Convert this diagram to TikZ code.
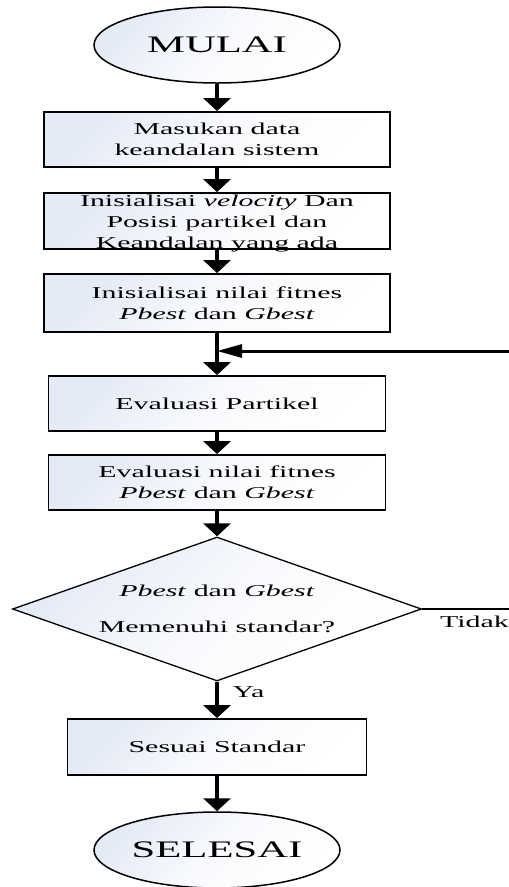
\documentclass[tikz,border=0pt]{standalone}
\usepackage{fontspec}
\setmainfont{Liberation Serif}[FakeStretch=1.8]
\usetikzlibrary{shapes.geometric,arrows.meta}
\definecolor{shadeblue}{RGB}{228,234,246}
\begin{document}
\begin{tikzpicture}[x=1pt,y=-1pt,
  every node/.style={font=\fontsize{16.6}{21}\selectfont},
  fillgrad/.style={left color=shadeblue, right color=white, middle color=shadeblue!25!white, shading angle=45},
  procbox/.style={draw, line width=1.8pt, fillgrad, minimum width=346pt, minimum height=56pt, inner sep=0pt, align=center},
  termnode/.style={ellipse, draw, line width=1.5pt, fillgrad, minimum width=246pt, minimum height=76pt, inner sep=0pt, font=\fontsize{23.7}{28}\selectfont},
  decnode/.style={diamond, draw, line width=1.3pt, fillgrad, minimum width=409pt, minimum height=144pt, aspect=2.84, inner sep=0pt, align=center},
  flow/.style={line width=3.5pt, -{Triangle[length=13pt,width=27pt]}},
  backflow/.style={line width=3pt, -{Triangle[length=25pt,width=13pt]}},
  thinline/.style={line width=1.3pt}
]
\useasboundingbox (0,0) rectangle (509,887);

\node[termnode] (start) at (217,45) {MULAI};
\node[procbox, minimum height=55pt] (b1) at (217,139.5) {Masukan data\\keandalan sistem};
\node[procbox] (b2) at (217,221) {};
\node[procbox, minimum height=58pt] (b3) at (217,303) {Inisialisai nilai fitnes\\\textit{Pbest} dan \textit{Gbest}};
\node[procbox, minimum width=337pt, minimum height=55pt] (b4) at (217,403.5) {Evaluasi Partikel};
\node[procbox, minimum width=337pt, minimum height=55pt] (b5) at (217,482.5) {Evaluasi nilai fitnes\\\textit{Pbest} dan \textit{Gbest}};
\node[decnode] (dec) at (217,609) {\textit{Pbest} dan \textit{Gbest}\\[15pt]Memenuhi standar?};
\node[procbox, minimum width=299pt] (b6) at (217,747) {Sesuai Standar};
\node[termnode] (stop) at (217,850) {SELESAI};

\node[align=center, inner sep=0pt] (t2) at (217,224) {Inisialisai \textit{velocity} Dan\\Posisi partikel dan\\Keandalan yang ada};

\coordinate (join) at (217,351);
\coordinate (rtop) at (509,351);
\coordinate (rdec) at (509,609);

\draw[flow] (start) -- (b1);
\draw[flow] (b1) -- (b2);
\draw[flow] (b2) -- (b3);
\draw[flow] (b3) -- (b4);
\draw[backflow] (rtop) -- (join);
\draw[flow] (b4) -- (b5);
\draw[flow] (b5) -- (dec);
\draw[flow] (dec) -- (b6);
\draw[flow] (b6) -- (stop);
\draw[thinline] (dec.east) -- (rdec);

\node[anchor=base] (tidak) at (474.5,627) {Tidak};
\node[anchor=base west] (ya) at (229,697) {Ya};
\end{tikzpicture}
\end{document}
